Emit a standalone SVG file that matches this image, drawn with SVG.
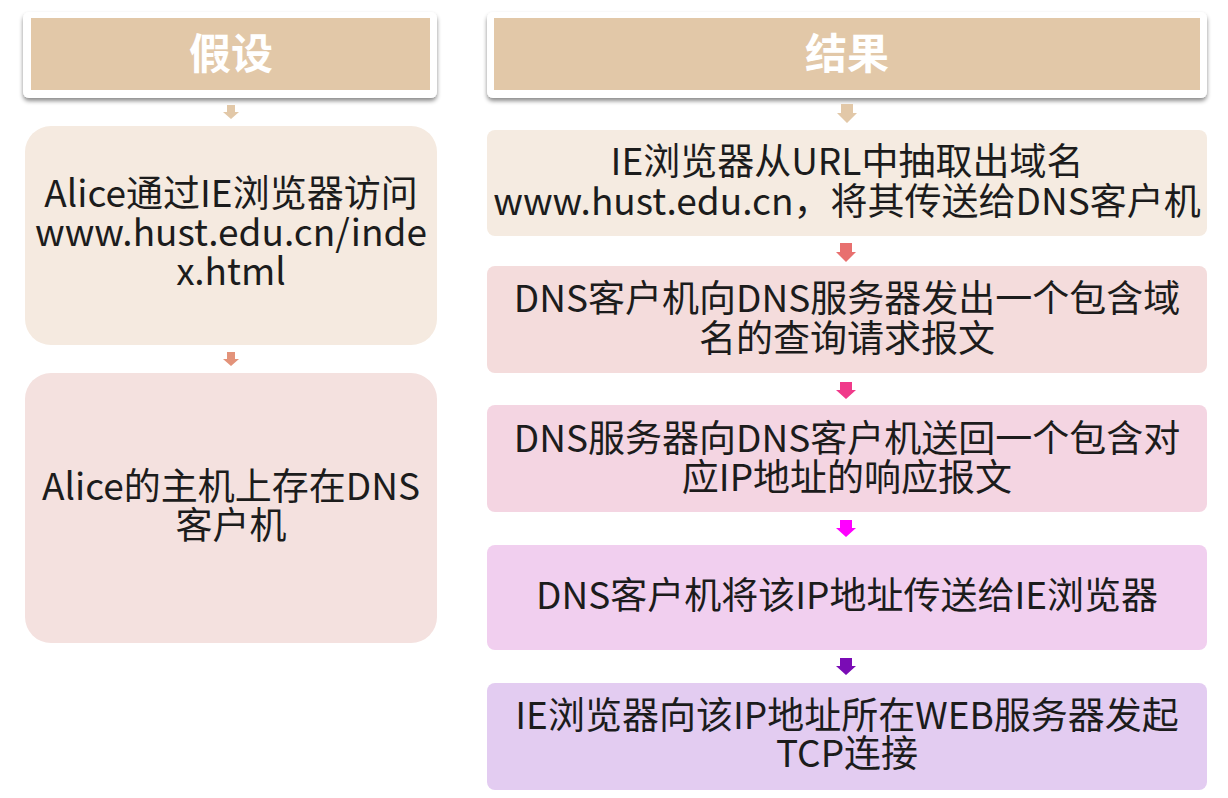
<svg xmlns="http://www.w3.org/2000/svg" width="1228" height="798" viewBox="0 0 1228 798">
<defs>
<filter id="sh" x="-5%" y="-20%" width="110%" height="150%">
<feDropShadow dx="0" dy="3" stdDeviation="2" flood-color="#000" flood-opacity="0.45"/>
</filter>
</defs>
<style>
.t{font-family:"Noto Sans CJK SC","Noto Sans",sans-serif;font-size:37px;fill:#1c1c1c;text-anchor:middle}
.h{font-family:"Noto Sans CJK SC","Noto Sans",sans-serif;font-size:42px;font-weight:bold;fill:#fff;text-anchor:middle}
.frame{fill:#fff;filter:url(#sh)}
.tan{fill:#E2C8A8}
</style>
<rect width="1228" height="798" fill="#fff"/>
<g id="hdr-left">
<rect class="frame" x="23" y="12" width="414" height="86" rx="6"/>
<rect class="tan" x="31" y="18" width="399" height="72"/>
<text class="h" x="231" y="69">假设</text>
</g>
<g id="hdr-right">
<rect class="frame" x="487" y="12" width="720" height="86" rx="6"/>
<rect class="tan" x="494" y="18" width="706" height="72"/>
<text class="h" x="847" y="69">结果</text>
</g>
<g id="l1">
<rect x="25" y="126" width="412" height="219" rx="26" fill="#F5EAE0"/>
<text class="t"><tspan x="231" y="207">Alice通过IE浏览器访问</tspan><tspan x="231" y="246">www.hust.edu.cn/inde</tspan><tspan x="231" y="285">x.html</tspan></text>
</g>
<g id="l2">
<rect x="25" y="373" width="412" height="270" rx="26" fill="#F4E1DF"/>
<text class="t"><tspan x="231" y="500">Alice的主机上存在DNS</tspan><tspan x="231" y="539">客户机</tspan></text>
</g>
<g id="r1">
<rect x="487" y="130" width="720" height="106" rx="8" fill="#F5EBE1"/>
<text class="t"><tspan x="847" y="175">IE浏览器从URL中抽取出域名</tspan><tspan x="847" y="215">www.hust.edu.cn，将其传送给DNS客户机</tspan></text>
</g>
<g id="r2">
<rect x="487" y="266" width="720" height="107" rx="8" fill="#F4DCDC"/>
<text class="t"><tspan x="847" y="312">DNS客户机向DNS服务器发出一个包含域</tspan><tspan x="847" y="352">名的查询请求报文</tspan></text>
</g>
<g id="r3">
<rect x="487" y="405" width="720" height="107" rx="8" fill="#F4D5E2"/>
<text class="t"><tspan x="847" y="452">DNS服务器向DNS客户机送回一个包含对</tspan><tspan x="847" y="491">应IP地址的响应报文</tspan></text>
</g>
<g id="r4">
<rect x="487" y="545" width="720" height="105" rx="8" fill="#F1CFEF"/>
<text class="t" x="847" y="609">DNS客户机将该IP地址传送给IE浏览器</text>
</g>
<g id="r5">
<rect x="487" y="683" width="720" height="107" rx="8" fill="#E3CCF1"/>
<text class="t"><tspan x="847" y="729">IE浏览器向该IP地址所在WEB服务器发起</tspan><tspan x="847" y="767">TCP连接</tspan></text>
</g>
<g id="connectors">
<path d="M227,105 h8 v7 h4 l-8,7 l-8,-7 h4 z" fill="#E2C8A8"/>
<path d="M227,352 h8 v7 h4 l-8,7 l-8,-7 h4 z" fill="#E3937A"/>
<path d="M841,104 h12 v9 h4 l-10,10 l-10,-10 h4 z" fill="#E2C8A8"/>
<path d="M840,243 h12 v9 h4 l-10,10 l-10,-10 h4 z" fill="#E8706F"/>
<path d="M840,382 h12 v8 h4 l-10,9 l-10,-9 h4 z" fill="#F03A8A"/>
<path d="M840,520 h12 v8 h4 l-10,9 l-10,-9 h4 z" fill="#FF00FF"/>
<path d="M840,658 h12 v8 h4 l-10,9 l-10,-9 h4 z" fill="#7A0CB5"/>
</g>
</svg>
